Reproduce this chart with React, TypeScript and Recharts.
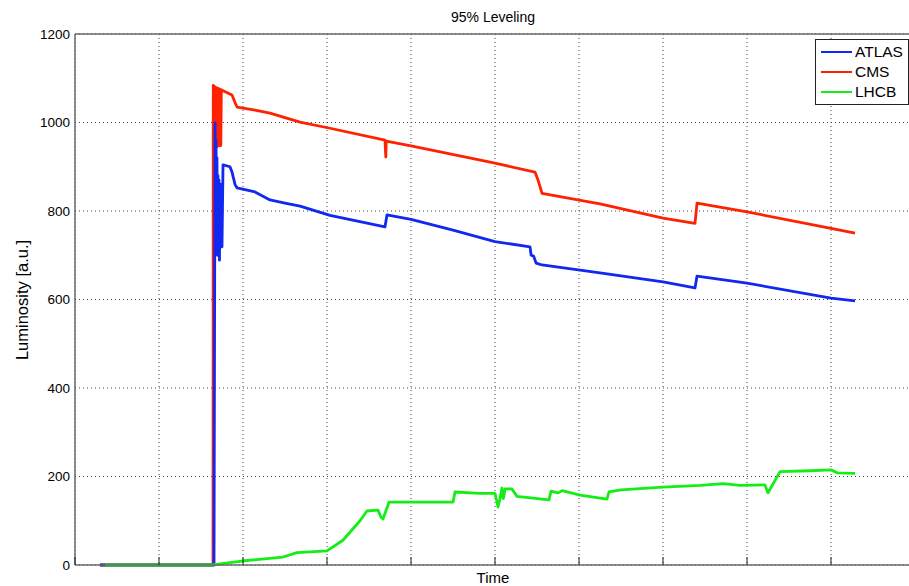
import React from 'react';
import { LineChart, Line, XAxis, YAxis, CartesianGrid } from 'recharts';

const yTicks = [0, 200, 400, 600, 800, 1000, 1200];
const majorTicks = [0, 1, 2, 3, 4, 5, 6, 7, 8, 9, 10];
const minorTicks = [0.5, 1.5, 2.5, 3.5, 4.5, 5.5, 6.5, 7.5, 8.5, 9.5];

const atlasT = [0.298, 1.655, 1.667, 1.673, 1.679, 1.685, 1.69, 1.696, 1.702, 1.708, 1.714, 1.72, 1.726, 1.732, 1.738, 1.744, 1.75, 1.762, 1.845, 1.869, 1.905, 1.93, 2.143, 2.321, 2.5, 2.679, 3.036, 3.69, 3.714, 4.0, 4.5, 5.0, 5.417, 5.43, 5.46, 5.49, 5.56, 6.25, 7.0, 7.381, 7.405, 8.0, 9.0, 9.286];
const atlasV = [0, 0, 999, 780, 960, 740, 920, 700, 880, 760, 870, 689, 850, 719, 860, 730, 719, 904, 900, 888, 860, 852, 843, 825, 818, 811, 790, 764, 791, 781, 757, 731, 719, 700, 698, 682, 678, 660, 640, 626, 653, 637, 603, 597];

const cmsT = [0.298, 1.643, 1.646, 1.652, 1.658, 1.664, 1.67, 1.676, 1.682, 1.688, 1.694, 1.7, 1.706, 1.712, 1.718, 1.724, 1.73, 1.736, 1.742, 1.75, 1.869, 1.905, 1.929, 2.143, 2.321, 2.679, 3.036, 3.69, 3.70, 3.705, 4.0, 5.0, 5.476, 5.512, 5.56, 6.25, 7.0, 7.381, 7.405, 8.0, 9.0, 9.286];
const cmsV = [0, 0, 1084, 950, 1082, 946, 1080, 948, 1079, 945, 1078, 950, 1077, 947, 1076, 950, 1075, 948, 1074, 1073, 1062, 1045, 1035, 1028, 1021, 1001, 987, 960, 922, 958, 947, 908, 888, 870, 840, 816, 784, 772, 818, 798, 761, 750];

const lhcbT = [0.357, 1.643, 1.75, 1.988, 2.476, 2.643, 3.0, 3.19, 3.393, 3.476, 3.607, 3.643, 3.667, 3.738, 4.5, 4.524, 4.821, 5.0, 5.036, 5.06, 5.083, 5.1, 5.12, 5.2, 5.262, 5.643, 5.667, 5.75, 5.8, 6.012, 6.333, 6.357, 6.5, 7.0, 7.44, 7.714, 7.917, 8.214, 8.25, 8.27, 8.393, 8.75, 9.0, 9.08, 9.286];
const lhcbV = [0, 0, 3, 9, 18, 28, 32, 56, 100, 122, 124, 108, 104, 142, 142, 165, 162, 162, 131, 150, 174, 150, 172, 172, 155, 147, 167, 163, 168, 158, 149, 165, 170, 176, 180, 184, 180, 181, 163, 170, 211, 213, 215, 208, 207];

const seriesNames = ['ATLAS', 'CMS', 'LHCB'];
const seriesColors = ['#1028f0', '#ff2200', '#14ee14'];

const build = (t: number[], v: number[]) => t.map((x, i) => ({ t: x, v: v[i] }));
const atlasData = build(atlasT, atlasV);
const cmsData = build(cmsT, cmsV);
const lhcbData = build(lhcbT, lhcbV);

const FONT = '"Liberation Sans", Arial, Helvetica, sans-serif';
const AXIS = '#6a6a6a';

const makeTick = (len: number, dir: number) => (props: any) => {
  const x = Number(props.x);
  const y = Number(props.y);
  return (
    <g>
      <line x1={x} x2={x} y1={y} y2={y + dir * len} stroke="#222" strokeWidth={1} />
    </g>
  );
};

const LegendBox = () => (
  <div
    style={{
      position: 'absolute',
      left: 815,
      top: 39,
      width: 92,
      height: 62,
      border: '1px solid #222',
      background: '#fff',
      fontFamily: FONT,
      fontSize: 15.5,
      paddingTop: 2,
      boxSizing: 'content-box',
    }}
  >
    {seriesNames.map((n, i) => (
      <div key={n} style={{ display: 'flex', alignItems: 'center', height: 20 }}>
        <div style={{ marginLeft: 5, width: 31, height: 2.5, background: seriesColors[i] }} />
        <span style={{ marginLeft: 3, color: '#000', lineHeight: '20px' }}>{n}</span>
      </div>
    ))}
  </div>
);

export default function App() {
  return (
    <div style={{ position: 'absolute', left: 0, top: 0, width: 909, height: 586, overflow: 'hidden', background: '#fff', fontFamily: FONT }}>
      <LineChart width={930} height={586} margin={{ top: 32, right: 15, bottom: 19, left: 15 }}>
        <CartesianGrid stroke="#444" strokeDasharray="1 3" strokeWidth={1} />
        <XAxis
          dataKey="t"
          type="number"
          domain={[0, 10]}
          ticks={majorTicks}
          interval={0}
          height={1}
          tickSize={0}
          tickMargin={0}
          tickLine={false}
          tick={makeTick(8, -1)}
          axisLine={{ stroke: AXIS, strokeWidth: 1.5 }}
          allowDataOverflow
        />
        <XAxis
          xAxisId="minor"
          type="number"
          domain={[0, 10]}
          ticks={minorTicks}
          interval={0}
          height={1}
          tickSize={0}
          tickMargin={0}
          tickLine={false}
          tick={makeTick(7, -1)}
          axisLine={false}
          allowDataOverflow
        />
        <XAxis
          xAxisId="top"
          orientation="top"
          type="number"
          domain={[0, 10]}
          ticks={majorTicks}
          interval={0}
          height={1}
          tickSize={0}
          tickMargin={0}
          tickLine={false}
          tick={makeTick(7, 1)}
          axisLine={{ stroke: AXIS, strokeWidth: 1.5 }}
          allowDataOverflow
        />
        <XAxis
          xAxisId="topMinor"
          orientation="top"
          type="number"
          domain={[0, 10]}
          ticks={minorTicks}
          interval={0}
          height={1}
          tickSize={0}
          tickMargin={0}
          tickLine={false}
          tick={makeTick(7, 1)}
          axisLine={false}
          allowDataOverflow
        />
        <YAxis
          type="number"
          domain={[0, 1200]}
          ticks={yTicks}
          width={60}
          tickSize={5}
          tickMargin={0}
          tickLine={false}
          axisLine={{ stroke: AXIS, strokeWidth: 1.5 }}
          tick={{ fill: '#000', fontSize: 13.5, fontFamily: FONT }}
        />
        <Line data={cmsData} dataKey="v" name="CMS" stroke={seriesColors[1]} strokeWidth={2.8} dot={false} isAnimationActive={false} strokeLinejoin="round" />
        <Line data={atlasData} dataKey="v" name="ATLAS" stroke={seriesColors[0]} strokeWidth={2.8} dot={false} isAnimationActive={false} strokeLinejoin="round" />
        <Line data={lhcbData} dataKey="v" name="LHCB" stroke={seriesColors[2]} strokeWidth={2.8} dot={false} isAnimationActive={false} strokeLinejoin="round" />
      </LineChart>
      <LegendBox />
      <div style={{ position: 'absolute', left: 393, width: 200, top: 9, textAlign: 'center', fontSize: 14, lineHeight: '16px', color: '#000' }}>
        95% Leveling
      </div>
      <div style={{ position: 'absolute', left: 393, width: 200, top: 570, textAlign: 'center', fontSize: 15, lineHeight: '16px', color: '#000' }}>
        Time
      </div>
      <div
        style={{
          position: 'absolute',
          left: 22,
          top: 300,
          transform: 'translate(-50%, -50%) rotate(-90deg)',
          whiteSpace: 'nowrap',
          fontSize: 16.5,
          lineHeight: '18px',
          color: '#000',
        }}
      >
        Luminosity [a.u.]
      </div>
    </div>
  );
}
